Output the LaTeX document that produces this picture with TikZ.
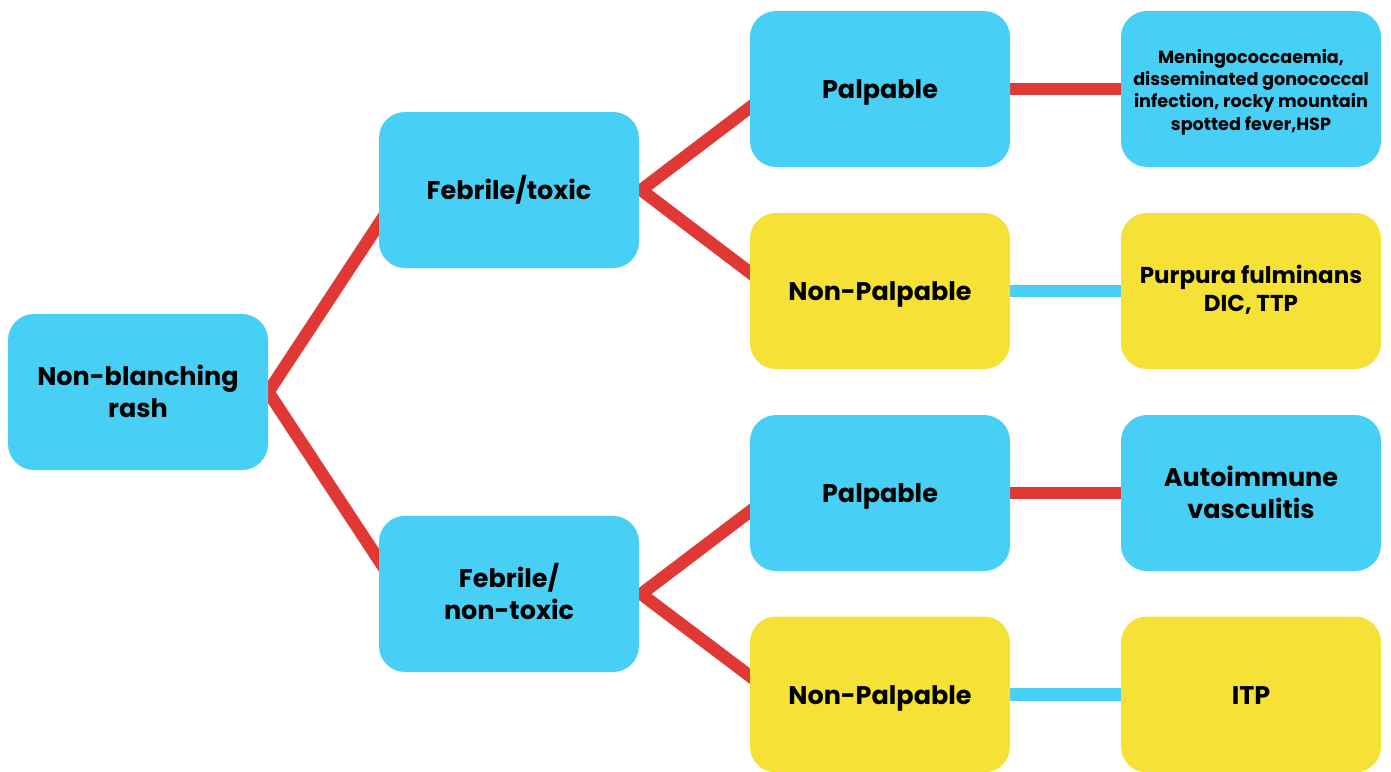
\documentclass[tikz,border=0pt]{standalone}
\usepackage{fontspec}
\setmainfont{Poppins}
\usetikzlibrary{calc,backgrounds}
\definecolor{cbox}{RGB}{72,207,245}
\definecolor{ybox}{RGB}{246,226,54}
\definecolor{rline}{RGB}{224,56,52}
% #1: baseline of the last line relative to the node centre (up is positive)
\newcommand{\boxtxt}[2]{\raisebox{#1}[0pt][0pt]{\begin{tabular}[b]{@{}c@{}}#2\end{tabular}}}
\tikzset{
  box/.style={rounded corners=26pt, minimum width=260pt, minimum height=156pt,
    inner sep=0pt, font=\fontsize{25.5}{32}\selectfont\bfseries, text=black},
  bluebox/.style={box, fill=cbox},
  yelbox/.style={box, fill=ybox},
  smalltext/.style={font=\fontsize{17.6}{22.3}\selectfont\bfseries},
  midtext/.style={font=\fontsize{23}{28.4}\selectfont\bfseries},
  redlink/.style={draw=rline, line width=12.5pt, miter limit=10},
  bluelink/.style={draw=cbox, line width=12.5pt}
}
\begin{document}
\begin{tikzpicture}[x=1pt,y=-1pt]
\useasboundingbox (0,0) rectangle (1391,771);
\node[bluebox] (root) at (138,392) {\boxtxt{-25.9pt}{Non-blanching\\rash}};
\node[bluebox] (ft) at (509,190) {\boxtxt{-9.6pt}{Febrile/toxic}};
\node[bluebox] (fn) at (509,594) {\boxtxt{-25.9pt}{Febrile/\\non-toxic}};
\node[bluebox] (p1) at (880,89) {\boxtxt{-9.6pt}{Palpable}};
\node[yelbox] (n1) at (880,291) {\boxtxt{-9.6pt}{Non-Palpable}};
\node[bluebox] (p2) at (880,493) {\boxtxt{-9.6pt}{Palpable}};
\node[yelbox] (n2) at (880,694.5) {\boxtxt{-9.6pt}{Non-Palpable}};
\node[bluebox, smalltext] (r1) at (1251,89) {\boxtxt{-41pt}{Meningococcaemia,\\disseminated gonococcal\\infection, rocky mountain\\spotted fever,HSP}};
\node[yelbox, midtext] (r2) at (1251,291) {\boxtxt{-20.9pt}{Purpura fulminans\\DIC, TTP}};
\node[bluebox] (r3) at (1251,493) {\boxtxt{-25.9pt}{Autoimmune\\vasculitis}};
\node[yelbox] (r4) at (1251,694.5) {\boxtxt{-9.6pt}{ITP}};
\coordinate (a1) at ($(ft.west)+(6,25)$);
\coordinate (a2) at ($(fn.west)+(6,-25)$);
\coordinate (b1) at ($(p1.west)+(6,14)$);
\coordinate (b2) at ($(n1.west)+(6,-14)$);
\coordinate (c1) at ($(p2.west)+(6,14)$);
\coordinate (c2) at ($(n2.west)+(6,-14)$);
\begin{scope}[on background layer]
\draw[redlink] (a1) -- (root.east) -- (a2);
\draw[redlink] (b1) -- ($(ft.east)+(2,0)$) -- (b2);
\draw[redlink] (c1) -- ($(fn.east)+(2,0)$) -- (c2);
\draw[redlink] (p1.east) -- (r1.west);
\draw[bluelink] (n1.east) -- (r2.west);
\draw[redlink] (p2.east) -- (r3.west);
\draw[bluelink] (n2.east) -- (r4.west);
\end{scope}
\end{tikzpicture}
\end{document}
